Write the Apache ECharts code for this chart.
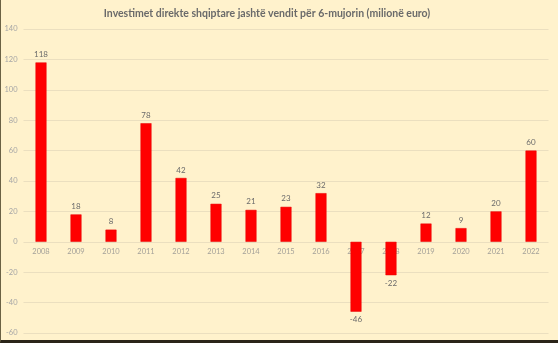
<!DOCTYPE html>
<html><head><meta charset="utf-8">
<script src="https://cdn.jsdelivr.net/npm/echarts@6/dist/echarts.min.js"></script>
<style>
html,body{margin:0;padding:0;background:#FFF2CC;}
#c{width:558px;height:343px;box-sizing:border-box;border-left:1px solid #6b6244;border-bottom:3px solid #2a2418;}
</style></head>
<body><div id="c"></div>
<script>
const years = ['2008','2009','2010','2011','2012','2013','2014','2015','2016','2017','2018','2019','2020','2021','2022'];
const values = [118,18,8,78,42,25,21,23,32,-46,-22,12,9,20,60];
const titleText = 'Investimet direkte shqiptare jashtë vendit për 6-mujorin (milionë euro)';

const chart = echarts.init(document.getElementById('c'));
chart.setOption({
  backgroundColor:'#FFF2CC',
  animation:false,
  title:{text:titleText,left:261,textAlign:'center',top:3,
    textStyle:{fontFamily:'Lato',fontSize:10.5,fontWeight:'bold',color:'#6a6a6a'}},
  grid:{left:22.5,right:9.5,top:29,bottom:7,outerBoundsMode:'none',containLabel:false},
  xAxis:{type:'category',data:years,
    axisLine:{show:false},
    axisTick:{show:false},
    axisLabel:{show:false}},
  yAxis:{type:'value',min:-60,max:140,interval:20,
    axisLine:{show:false},axisTick:{show:false},
    splitLine:{lineStyle:{color:'#ebdfbf',width:1}},
    axisLabel:{fontFamily:'Lato',fontSize:7.5,color:'#a6a6a6',margin:6}},
  series:[
    {type:'scatter',z:1,symbolSize:0,silent:true,
     data:years.map(y=>[y,0]),
     label:{show:true,position:'bottom',distance:6,formatter:'{b}',
       fontFamily:'Lato',fontSize:7.5,color:'#8c8c8c'}},
    {type:'bar',z:2,barWidth:11,
    data:values.map(v=>({value:v,label:{position:v<0?'bottom':'top'}})),
    itemStyle:{color:'#FF0000',borderColor:'#e60000',borderWidth:0.5},
    label:{show:true,fontFamily:'Lato',fontSize:8,color:'#6a6a6a',distance:4}}]
});
</script></body></html>
